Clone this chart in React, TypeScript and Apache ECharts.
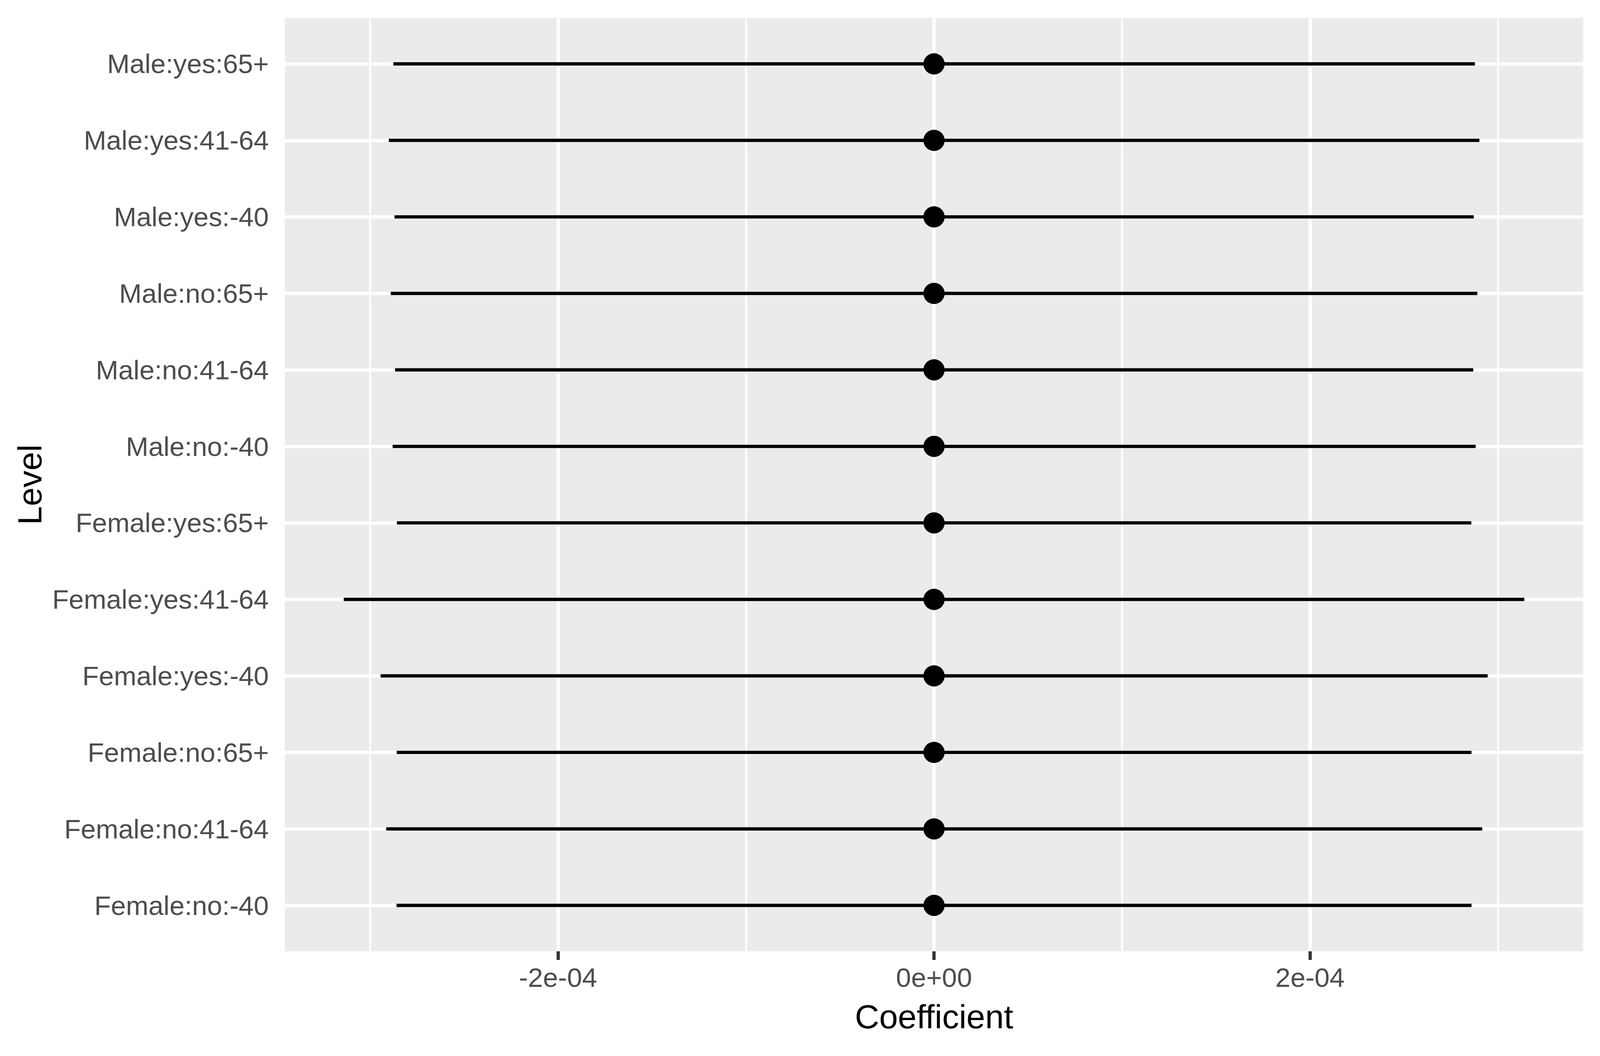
import React, { useEffect, useRef } from 'react';
import * as echarts from 'echarts';

// levels, bottom row first (echarts value axis grows upward)
const levels = [
  'Female:no:-40', 'Female:no:41-64', 'Female:no:65+',
  'Female:yes:-40', 'Female:yes:41-64', 'Female:yes:65+',
  'Male:no:-40', 'Male:no:41-64', 'Male:no:65+',
  'Male:yes:-40', 'Male:yes:41-64', 'Male:yes:65+',
];
const coef = [0, 0, 0, 0, 0, 0, 0, 0, 0, 0, 0, 0];
const lower = [
  -2.859e-4, -2.914e-4, -2.858e-4, -2.944e-4, -3.140e-4, -2.857e-4,
  -2.880e-4, -2.867e-4, -2.890e-4, -2.870e-4, -2.900e-4, -2.876e-4,
];
const upper = [
  2.859e-4, 2.916e-4, 2.859e-4, 2.945e-4, 3.140e-4, 2.858e-4,
  2.881e-4, 2.868e-4, 2.890e-4, 2.871e-4, 2.901e-4, 2.877e-4,
];
const xTicks = [-2e-4, 0, 2e-4];
const xTickLabels = ['-2e-04', '0e+00', '2e-04'];
const xMinor = [-3e-4, -1e-4, 1e-4, 3e-4];

const FONT = 'Liberation Sans, Arial, Helvetica, sans-serif';

export default function App() {
  const chartRef = useRef<HTMLDivElement>(null);

  useEffect(() => {
    if (!chartRef.current) return;
    const el = chartRef.current;
    const chart = echarts.init(el, null, { renderer: 'svg' });
    const W = el.clientWidth;
    const H = el.clientHeight;
    // layout was measured on a 4375 x 2703 picture, scale it to the real viewport
    const sx = W / 4375;
    const sy = H / 2703;
    const s = Math.min(sx, sy);
    const yPos = levels.map((_, i) => i + 1);
    const yMin = 0.4;
    const yMax = levels.length + 0.6;

    chart.setOption({
      animation: false,
      backgroundColor: '#FFFFFF',
      grid: {
        left: 779 * sx, right: 46 * sx, top: 46 * sy, bottom: 268 * sy,
        show: true, backgroundColor: '#EBEBEB', borderWidth: 0,
      },
      xAxis: {
        type: 'value',
        min: -3.453e-4,
        max: 3.453e-4,
        name: 'Coefficient',
        nameLocation: 'middle',
        nameGap: 124 * sy,
        nameTextStyle: { fontSize: 92 * s, color: '#000000', fontFamily: FONT },
        axisLine: { show: false },
        axisTick: { show: true, length: 22 * sy, customValues: xTicks, lineStyle: { color: '#333333', width: 9 * s } },
        axisLabel: {
          customValues: xTicks,
          margin: 32 * sy,
          fontSize: 74 * s,
          color: '#4D4D4D',
          fontFamily: FONT,
          formatter: (v: number) => {
            const i = xTicks.findIndex((t) => Math.abs(t - v) < 1e-9);
            return i >= 0 ? xTickLabels[i] : '';
          },
        },
        splitLine: { show: true, lineStyle: { color: '#FFFFFF', width: 9 * s } },
      },
      yAxis: {
        type: 'value',
        min: yMin,
        max: yMax,
        name: 'Level',
        nameLocation: 'middle',
        nameRotate: 90,
        nameGap: 652 * sx,
        nameTextStyle: { fontSize: 92 * s, color: '#000000', fontFamily: FONT },
        axisLine: { show: false },
        axisTick: { show: true, length: 22 * sx, customValues: yPos, lineStyle: { color: '#333333', width: 9 * s } },
        axisLabel: {
          customValues: yPos,
          margin: 44 * sx,
          fontSize: 74 * s,
          color: '#4D4D4D',
          fontFamily: FONT,
          formatter: (v: number) => levels[Math.round(v) - 1] ?? '',
        },
        splitLine: { show: true, lineStyle: { color: '#FFFFFF', width: 9 * s } },
      },
      series: [
        {
          // minor vertical grid lines
          type: 'custom',
          z: 1,
          silent: true,
          data: xMinor.map((v) => [v]),
          encode: { x: 0 },
          renderItem: (params: any, api: any) => {
            const a = api.coord([api.value(0), yMin]);
            const b = api.coord([api.value(0), yMax]);
            return {
              type: 'line',
              shape: { x1: a[0], y1: a[1], x2: b[0], y2: b[1] },
              style: { stroke: '#FFFFFF', lineWidth: 5 * s },
            };
          },
        },
        {
          // confidence intervals
          type: 'custom',
          z: 3,
          data: levels.map((_, i) => [i + 1, lower[i], upper[i]]),
          encode: { x: [1, 2], y: 0 },
          renderItem: (params: any, api: any) => {
            const a = api.coord([api.value(1), api.value(0)]);
            const b = api.coord([api.value(2), api.value(0)]);
            return {
              type: 'line',
              shape: { x1: a[0], y1: a[1], x2: b[0], y2: b[1] },
              style: { stroke: '#000000', lineWidth: 9 * s },
            };
          },
        },
        {
          type: 'scatter',
          z: 4,
          symbol: 'circle',
          symbolSize: 58 * s,
          itemStyle: { color: '#000000', opacity: 1 },
          data: levels.map((_, i) => [coef[i], i + 1]),
        },
      ],
    });

    return () => chart.dispose();
  }, []);

  return (
    <div
      ref={chartRef}
      style={{ position: 'fixed', left: 0, top: 0, width: '100vw', height: '100vh' }}
    />
  );
}
